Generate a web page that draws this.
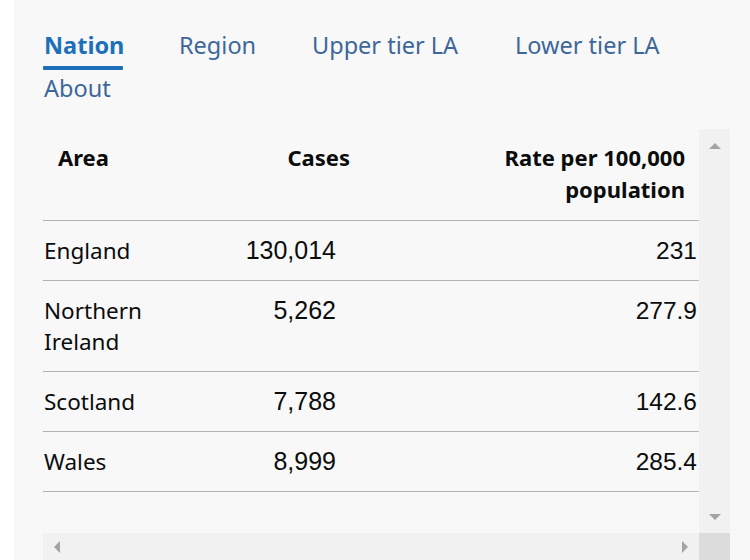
<!DOCTYPE html>
<html>
<head>
<meta charset="utf-8">
<!-- Note: the reference image is a data table (tabs + table), not a chart, so it is rendered as an HTML table
     built from the data arrays below. Chart.js is loaded as required but no chart marks are drawn with it. -->
<script src="https://cdn.jsdelivr.net/npm/chart.js@4"></script>
<style>
  html, body { margin: 0; padding: 0; }
  body { width: 750px; height: 560px; overflow: hidden; background: #ffffff; position: relative;
         font-family: "Noto Sans", "Open Sans", sans-serif; color: #0b0c0c; }
  #panel { position: absolute; left: 14px; top: 0; width: 736px; height: 560px; background: #f8f8f8; }
  .tab { position: absolute; font-size: 23.5px; line-height: 30px; color: #3d679a; white-space: nowrap; }
  .tab.active { color: #1d70b8; font-weight: 700; }
  #underline { position: absolute; left: 43px; top: 66px; width: 80px; height: 4px; background: #1d70b8; border-radius: 1px; }
  #tablewrap { position: absolute; left: 43px; top: 130px; width: 656px; height: 403px; overflow: hidden; }
  table { border-collapse: collapse; table-layout: fixed; width: 680px; }
  td, th { font-size: 22.5px; line-height: 31px; vertical-align: top; border-bottom: 1px solid #b1b4b6; padding: 0; }
  th { font-weight: 700; line-height: 32px; padding-top: 11px; padding-bottom: 15px; font-size: 22px; }
  td { padding-top: 14px; padding-bottom: 14px; }
  th.c1 { text-align: left; padding-left: 15px; }
  th.c2 { text-align: right; padding-right: 0; }
  th.c3 { text-align: right; padding-right: 38px; }
  td.c1 { text-align: left; padding-left: 1px; }
  td.c2 { text-align: right; padding-right: 14px; font-family: "Liberation Sans", Arial, sans-serif; font-size: 25px; }
  td.c3 { text-align: right; padding-right: 26px; font-family: "Liberation Sans", Arial, sans-serif; font-size: 24.5px; }
  #vscroll { position: absolute; left: 699px; top: 129px; width: 31px; height: 404px; background: #f1f1f1; }
  #hscroll { position: absolute; left: 43px; top: 533px; width: 656px; height: 27px; background: #f1f1f1; }
  #corner { position: absolute; left: 699px; top: 533px; width: 31px; height: 27px; background: #dcdcdc; }
  .arr { position: absolute; width: 0; height: 0; }
  #aup { left: 709px; top: 143px; border-left: 6px solid transparent; border-right: 6px solid transparent; border-bottom: 6px solid #a3a3a3; }
  #adown { left: 709px; top: 514px; border-left: 6px solid transparent; border-right: 6px solid transparent; border-top: 6px solid #a3a3a3; }
  #aleft { left: 54px; top: 541px; border-top: 6px solid transparent; border-bottom: 6px solid transparent; border-right: 6px solid #a3a3a3; }
  #aright { left: 682px; top: 541px; border-top: 6px solid transparent; border-bottom: 6px solid transparent; border-left: 6px solid #a3a3a3; }
</style>
</head>
<body>
<div id="panel"></div>
<div id="tabs"></div>
<div id="underline"></div>
<div id="tablewrap"><table id="tbl"><colgroup><col style="width:130px"><col style="width:177px"><col style="width:373px"></colgroup><thead id="thead"></thead><tbody id="tbody"></tbody></table></div>
<div id="vscroll"></div><div id="hscroll"></div><div id="corner"></div>
<div class="arr" id="aup"></div><div class="arr" id="adown"></div><div class="arr" id="aleft"></div><div class="arr" id="aright"></div>
<script>
// ---- data ----
const tabLabels = ["Nation", "Region", "Upper tier LA", "Lower tier LA", "About"];
const columnHeaders = ["Area", "Cases", "Rate per 100,000 population"];
const areas = ["England", "Northern Ireland", "Scotland", "Wales"];
const cases = [130014, 5262, 7788, 8999];
const ratePer100k = ["231", "277.9", "142.6", "285.4"];

// ---- tabs ----
const tabPos = [[44, 30], [179, 30], [312, 30], [515, 30], [44, 73]];
const tabs = document.getElementById('tabs');
tabLabels.forEach((t, i) => {
  const d = document.createElement('div');
  d.className = 'tab' + (i === 0 ? ' active' : '');
  d.style.left = tabPos[i][0] + 'px';
  d.style.top = tabPos[i][1] + 'px';
  d.textContent = t;
  tabs.appendChild(d);
});

// ---- table ----
const thead = document.getElementById('thead');
const hr = document.createElement('tr');
columnHeaders.forEach((h, i) => {
  const th = document.createElement('th');
  th.className = 'c' + (i + 1);
  if (i === 2) { th.innerHTML = 'Rate per 100,000<br>population'; } else { th.textContent = h; }
  hr.appendChild(th);
});
thead.appendChild(hr);

const tbody = document.getElementById('tbody');
const fmt = new Intl.NumberFormat('en-GB');
areas.forEach((a, i) => {
  const tr = document.createElement('tr');
  const vals = [a, fmt.format(cases[i]), ratePer100k[i]];
  vals.forEach((v, j) => {
    const td = document.createElement('td');
    td.className = 'c' + (j + 1);
    td.textContent = v;
    tr.appendChild(td);
  });
  tbody.appendChild(tr);
});
</script>
</body>
</html>
